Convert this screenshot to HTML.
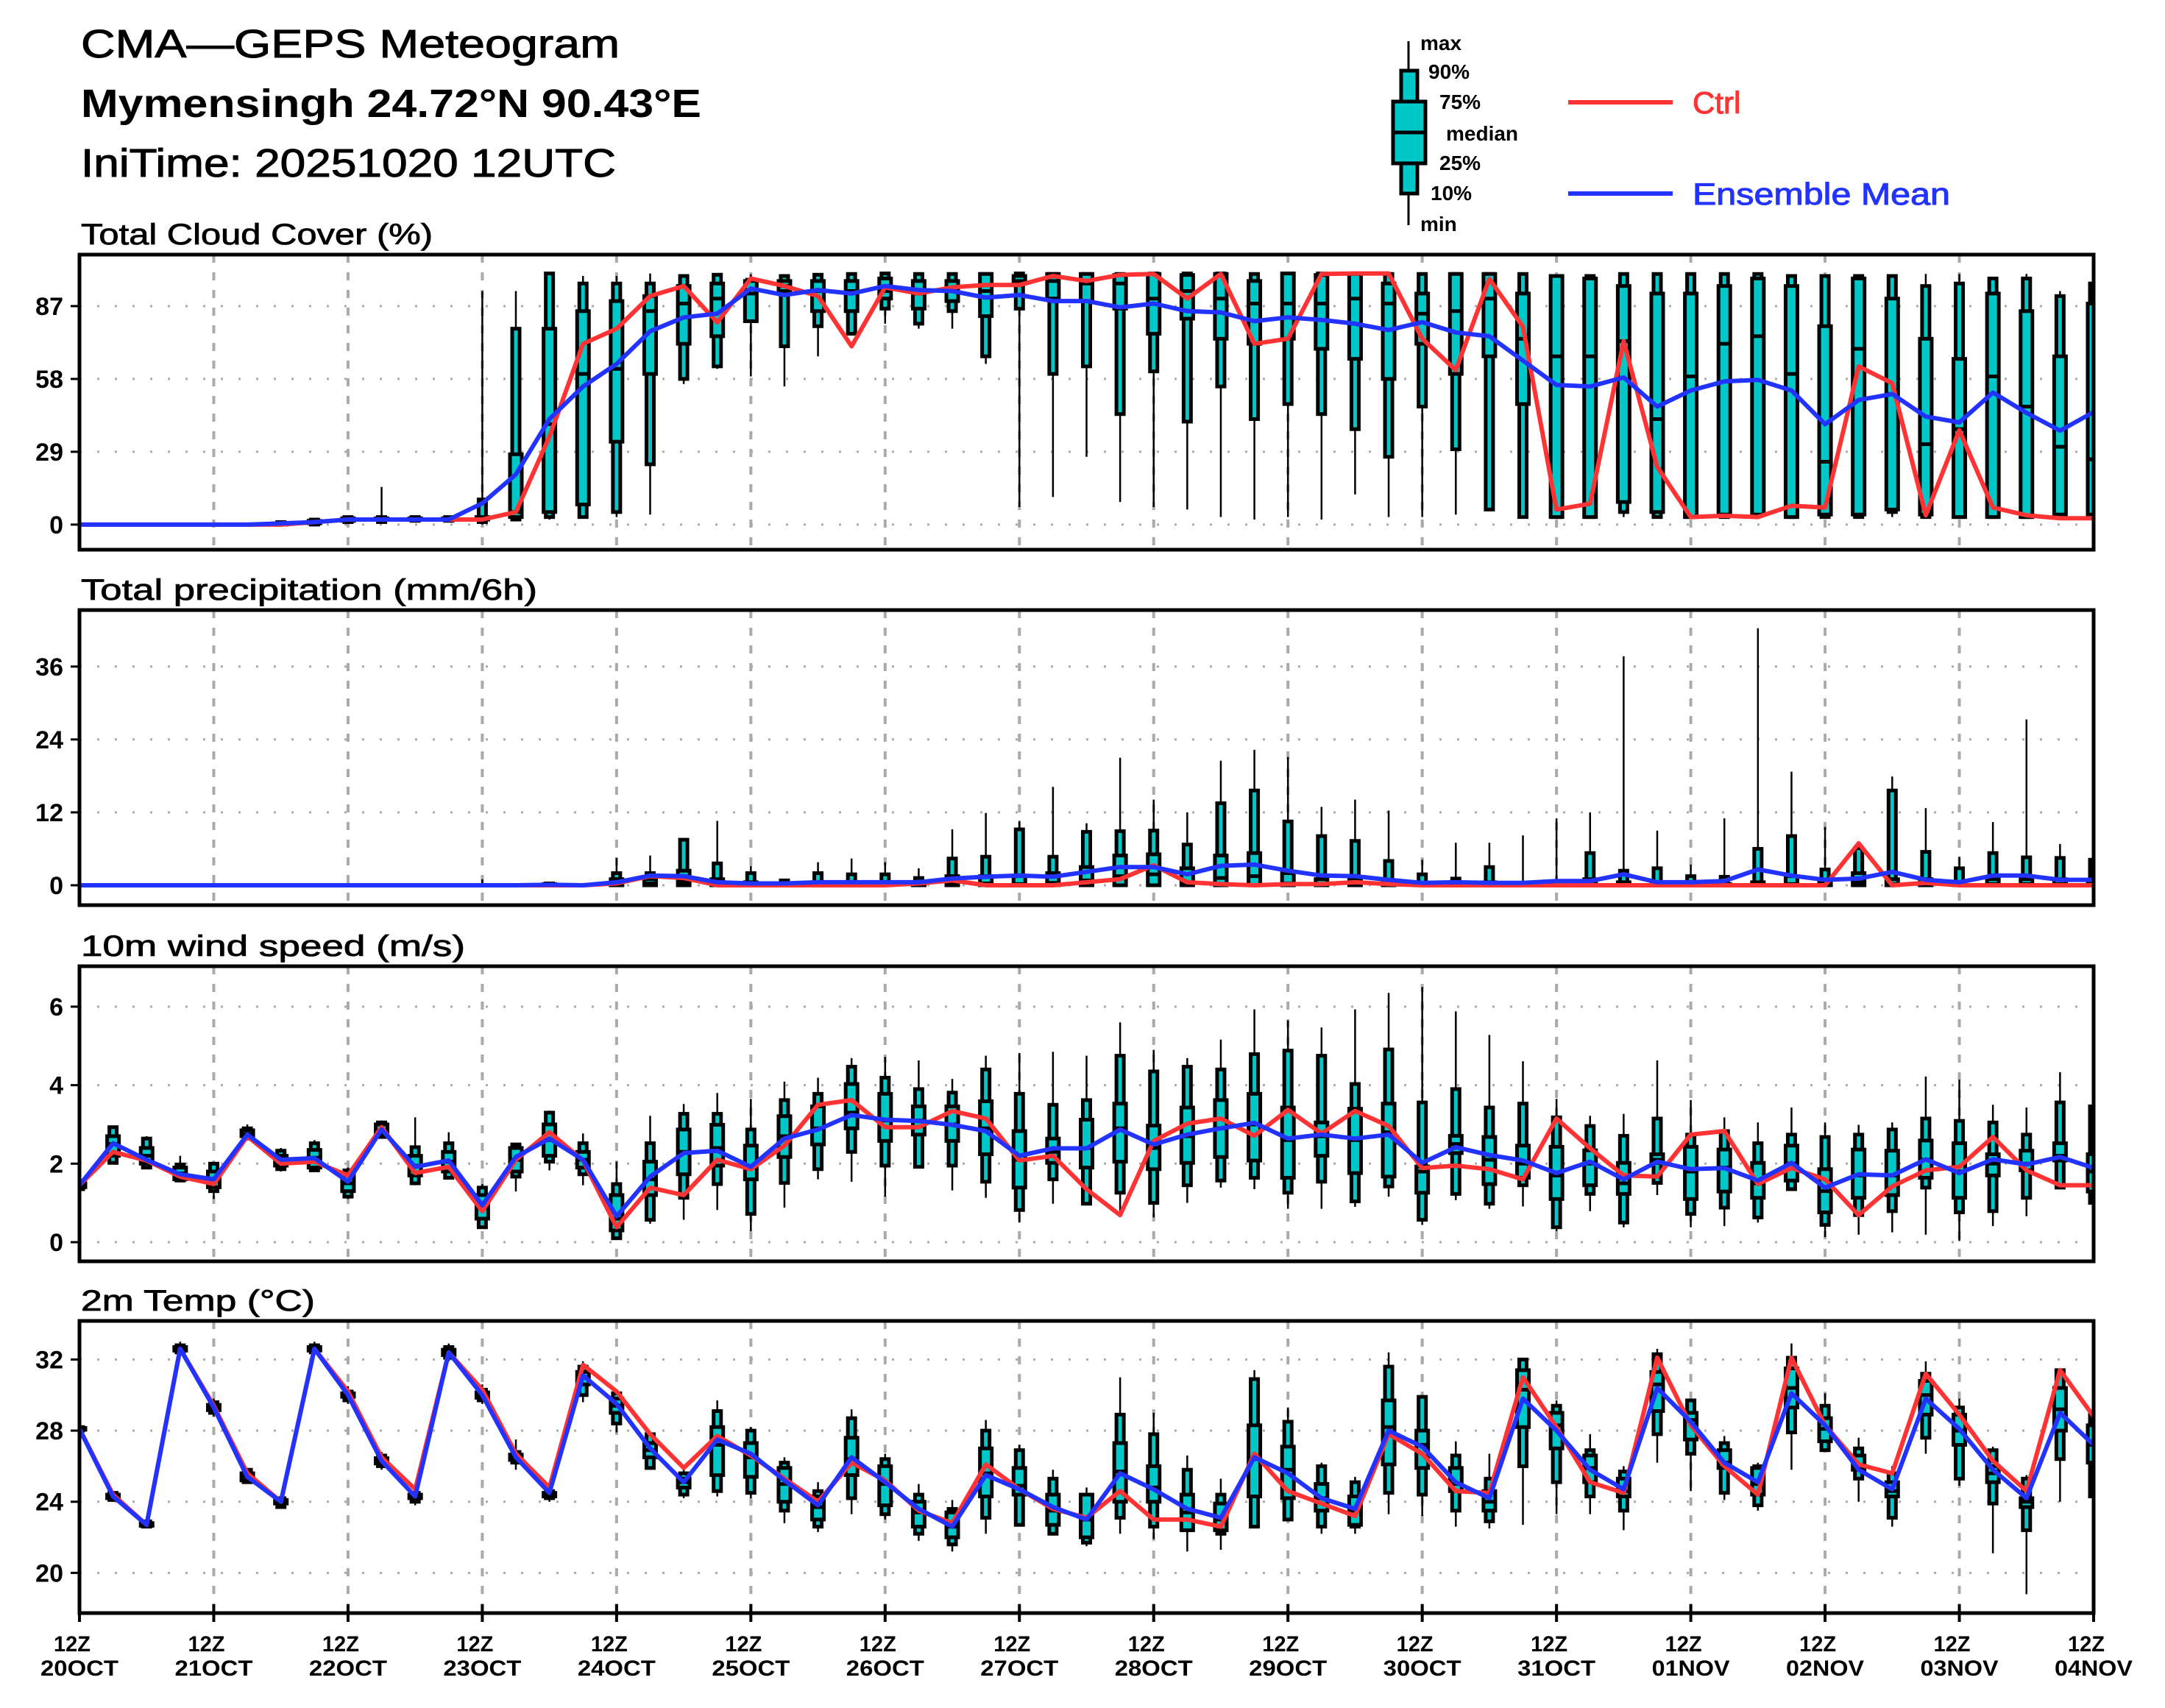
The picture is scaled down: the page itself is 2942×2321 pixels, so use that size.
<!DOCTYPE html>
<html><head><meta charset="utf-8"><title>CMA-GEPS Meteogram</title>
<style>html,body{margin:0;padding:0;background:#fff}svg{display:block}text{font-family:"Liberation Sans",sans-serif}</style>
</head><body>
<svg id="chart" xmlns="http://www.w3.org/2000/svg" width="2942" height="2321" viewBox="0 0 2942 2321">
<rect x="0" y="0" width="2942" height="2321" fill="#fff"/>
<text x="110" y="78" font-size="54" textLength="732" lengthAdjust="spacingAndGlyphs" stroke="#000" stroke-width="1">CMA—GEPS Meteogram</text>
<text x="110" y="159" font-size="54" font-weight="bold" textLength="843" lengthAdjust="spacingAndGlyphs">Mymensingh 24.72°N 90.43°E</text>
<text x="110" y="240" font-size="54" textLength="727" lengthAdjust="spacingAndGlyphs" stroke="#000" stroke-width="1">IniTime: 20251020 12UTC</text>
<g id="legend">
<line x1="1914" y1="56" x2="1914" y2="306" stroke="#000" stroke-width="3"/>
<rect x="1904" y="96" width="22" height="167" fill="#00c8c8" stroke="#000" stroke-width="5"/>
<rect x="1893" y="138" width="44" height="84" fill="#00c8c8" stroke="#000" stroke-width="5"/>
<line x1="1893" y1="180" x2="1937" y2="180" stroke="#000" stroke-width="5"/>
<g font-size="28" font-weight="bold">
<text x="1930" y="68">max</text>
<text x="1941" y="107">90%</text>
<text x="1956" y="148">75%</text>
<text x="1965" y="191">median</text>
<text x="1956" y="231">25%</text>
<text x="1944" y="272">10%</text>
<text x="1930" y="314">min</text>
</g>
<line x1="2131" y1="139" x2="2273" y2="139" stroke="#ff3333" stroke-width="6"/>
<text x="2300" y="154" font-size="42" fill="#ff3333" stroke="#ff3333" stroke-width="1">Ctrl</text>
<line x1="2131" y1="263" x2="2273" y2="263" stroke="#2233ff" stroke-width="6"/>
<text x="2300" y="278" font-size="42" fill="#2233ff" stroke="#2233ff" stroke-width="1" textLength="350" lengthAdjust="spacingAndGlyphs">Ensemble Mean</text>
</g>
<g id="panels"></g>
</svg>
<script>
// ---------- x axis ----------
const nSteps = 61;
const dayLabels = ["20OCT","21OCT","22OCT","23OCT","24OCT","25OCT","26OCT","27OCT","28OCT","29OCT","30OCT","31OCT","01NOV","02NOV","03NOV","04NOV"];

// ---------- cloud cover (%) ----------
const cloudMin = [0,0,0,0,0,0,0,0,1,1,1,1,0,2,2,3,3,4,56,62,59,55,67,76,80,78,78,64,7,11,27,9,7,6,3,2,3,2,12,3,3,4,6,3,3,3,3,3,3,3,3,3,3,3,3,3,3,3,3,3,3];
const cloudP10 = [0,0,0,0,0,0,0,0,1,1,1.5,1.5,1,2,3,3,5,24,58,63,81,71,79,76,86,80,85,67,86,60,63,44,61,41,55,42,48,44,38,27,47,30,6,3,3,3,5,3,3,3,4,3,3,3,5,3,3,3,3,3,3];
const cloudP25 = [0,0,0,0,0,0,0,0.5,1.5,2,2,2,2,3,5,8,33,60,72,75,81,93,85,85,90,86,89,83,96,90,89,86,76,82,74,72,74,70,66,58,72,60,67,48,3,3,9,5,3,4,4,3,4,4,6,4,3,3,3,4,4];
const cloudMed = [0,0,0,0,0,0,0,1,2,2,2,2,2,5,40,60,62,85,88,90,92,95,93,93,93,92,93,93,97,97,96,96,90,93,90,88,88,88,90,88,84,85,90,74,67,67,73,42,59,72,75,60,25,70,52,32,38,59,47,31,26];
const cloudP75 = [0,0,0,0,0,0,0.5,1.5,2.5,2.5,2.5,2.5,3,28,78,85,89,91,95,96,97,97,97,97,98,97,97,99.8,99,99.8,99.8,99.4,99.8,99.4,99.8,97,100,99.4,99.8,96,92,99.8,99.8,92,99,98,95,92,92,95,98,95,79,98,90,74,66,92,85,67,88];
const cloudP90 = [0,0,0,0,0,0,1,2,3,3,3,3,10,78,100,96,96,96,99,99.5,97.5,99,99.5,99.8,100,99.8,99.8,99.8,100,99.8,99.8,99.8,100,100,100,99.8,100,100,99.8,99.8,99.8,99.8,99.8,99.8,99,99,99.8,99.8,99.8,99.8,99.8,99,99,99,99,95,96,98,98,91,96];
const cloudMax = [0,0,0,0,0,0,1,2,3,15,3,3,93,93,100,99,99,100,99,99.5,99.7,99,99.5,99.8,100,99.8,99.8,99.8,100,100,100,100,100,100,100,99.8,100,100,99.8,99.8,99.8,99.8,99.8,99.8,99,99,99.8,99.8,99.8,99.8,99.8,99,99,99,99,99.8,99.8,98.3,99.8,93,98];
const cloudCtrl = [0,0,0,0,0,0,0,1,2,2,2,2,2,5,35,72,78,91,95,80.5,98,95,91,71,94.5,92,94.5,95.4,95.4,99,97,99.4,99.8,90,99.8,72,74,99.8,100,100,74,61.5,97.8,78.8,6,8.3,73,23,3,3.5,3,7.5,6.8,63,56.3,3.7,37.6,6.8,3.7,2.5,2.5];
const cloudMean = [0,0,0,0,0,0,0.5,1,2,2,2,2,8.5,20,42,55,64,77,82.5,84,94,91.4,93.4,92,95,93.4,93,90.4,91.4,89,89,86.5,88,85,84.5,81,82.5,81.5,80,77.5,80.6,76.5,75,65.3,55.6,55,58.6,47,53.4,57,57.6,53.4,40,49.6,52,43,40.7,52.6,44.5,37.4,44.8];
const cloudTicks = [0,29,58,87];

// ---------- precipitation (mm/6h) ----------
const precMin = [0,0,0,0,0,0,0,0,0,0,0,0,0,0,0,0,0,0,0,0,0,0,0,0,0,0,0,0,0,0,0,0,0,0,0,0,0,0,0,0,0,0,0,0,0,0,0,0,0,0,0,0,0,0,0,0,0,0,0,0,0];
const precP10 = [0,0,0,0,0,0,0,0,0,0,0,0,0,0,0,0,0,0,0,0,0,0,0,0,0,0,0,0,0,0,0,0,0,0,0,0,0,0,0,0,0,0,0,0,0,0,0,0,0,0,0,0,0,0,0,0,0,0,0,0,0];
const precP25 = [0,0,0,0,0,0,0,0,0,0,0,0,0,0,0,0,0,0,0,0,0,0,0,0,0,0,0,0,0,0,0,0,0,0,0,0,0,0,0,0,0,0,0,0,0,0,0,0,0,0,0,0,0,0,0,0,0,0,0,0,0];
const precMed = [0,0,0,0,0,0,0,0,0,0,0,0,0,0,0,0,0.3,0.3,0.6,0.2,0,0,0.1,0.1,0.1,0,0.3,0.3,0.2,0.4,0.8,1.5,1.8,0.5,1.2,1.5,0.3,0.2,0.2,0.1,0,0,0.1,0,0,0.1,0.1,0,0,0,0.1,0.2,0,0.5,0.2,0.2,0,0.2,0.2,0.2,0.1];
const precP75 = [0,0,0,0,0,0,0,0,0,0,0,0,0,0,0.2,0,1,1,2.4,1,0.5,0.2,0.5,0.5,0.5,0.3,1.5,1.5,1.5,2,3,4.9,5.1,2.8,4.9,5.3,2,1,1,0.8,0.3,0.2,0.5,0,0,1,0.5,0.5,0.3,0.2,0.5,1.5,0.5,2,1,1,0.3,1,1,1,0.5];
const precP90 = [0,0,0,0,0,0,0,0,0,0,0,0,0,0,0.3,0,2,2,7.5,3.6,2,0.8,2,1.8,1.8,1.2,4.4,4.7,9.2,4.7,8.8,8.9,9,6.7,13.5,15.6,10.5,8.1,7.3,4,1.8,1.1,3,0.4,0.4,5.3,2.4,2.8,1.5,1.4,6,8.1,2.6,6.1,15.6,5.5,2.8,5.3,4.6,4.5,4.2];
const precMax = [0,0,0,0,0,0,0,0,0,0,0,0,1,0,0.5,0,4.5,4.9,7.7,10.6,3.2,1,3.8,4.4,3.8,2.8,9.2,11.9,10.6,16.2,10.2,21,14.1,12,20.5,22.3,21.1,12.9,14.1,12.3,4.2,7,7,8.2,11,12,37.7,9,3.4,11,42.3,18.7,9.6,6.1,17.9,12.7,4.7,10.4,27.3,6.8,4.2];
const precCtrl = [0,0,0,0,0,0,0,0,0,0,0,0,0,0,0,0,0.3,1.5,1.2,0,0,0,0,0,0,0.3,0.8,0,0,0,0.5,1,3.3,0.5,0.2,0,0.2,0.2,0.5,0.2,0,0,0,0,0,0,0,0,0,0,0,0,0,6.9,0,0.4,0,0,0,0,0];
const precMean = [0,0,0,0,0,0,0,0,0,0,0,0,0,0,0.1,0,0.5,1.6,1.5,0.5,0.3,0.3,0.5,0.5,0.5,0.5,1.1,1.4,1.6,1.4,2.2,3,3,1.8,3.2,3.4,2.4,1.6,1.5,0.9,0.4,0.5,0.4,0.4,0.7,0.7,1.8,0.5,0.5,0.7,2.6,1.6,0.9,1.1,2.2,0.9,0.5,1.6,1.6,0.9,0.9];
const precTicks = [0,12,24,36];

// ---------- 10m wind speed (m/s) ----------
const windMin = [1.35,2.0,1.9,1.55,1.1,2.6,1.8,1.8,1.1,2.65,1.45,1.6,0.35,1.29,1.83,1.45,0.06,0.47,0.57,0.82,0.28,0.88,1.6,1.54,1.16,1.9,1.32,1.13,0.5,0.98,0.94,0.7,0.63,1.0,1.39,1.35,0.85,0.85,0.9,1.16,0.44,1.07,0.85,0.91,0.28,0.79,0.38,1.2,0.38,0.41,0.5,1.32,0.13,0.19,0.25,0.19,0.03,0.41,0.66,1.35,0.9];
const windP10 = [1.35,2.02,1.9,1.57,1.3,2.64,1.86,1.83,1.16,2.68,1.5,1.64,0.38,1.67,2.05,1.73,0.1,0.57,1.13,1.48,0.72,1.51,1.86,2.3,1.95,1.92,1.95,1.54,0.82,1.6,0.98,1.26,1.0,1.45,1.57,1.64,1.26,1.54,1.04,1.42,0.57,1.23,0.98,1.45,0.38,1.23,0.5,1.51,0.72,0.88,0.63,1.35,0.44,0.69,0.79,1.39,0.76,0.79,1.13,1.39,1.0];
const windP25 = [1.4,2.2,2.0,1.6,1.4,2.7,1.95,1.9,1.3,2.75,1.7,1.8,0.6,1.8,2.2,1.9,0.3,1.2,1.73,1.95,1.6,2.17,2.49,2.9,2.58,2.74,2.58,2.24,1.39,2.02,1.9,2.05,1.86,2.02,2.17,2.08,1.64,2.2,1.76,1.67,1.26,2.27,1.48,1.64,1.1,1.45,1.23,2.02,1.1,1.29,1.13,1.57,0.76,1.13,1.2,1.64,1.13,1.7,1.83,2.08,1.29];
const windMed = [1.45,2.5,2.2,1.75,1.6,2.75,2.05,2.15,1.5,2.85,1.95,2.05,0.9,2.1,2.6,2.1,0.6,1.6,2.3,2.4,1.9,2.7,2.9,3.3,3.1,3.1,3.0,2.9,2.1,2.3,2.4,2.9,2.4,2.7,2.9,3.0,2.6,2.7,2.6,2.8,1.8,2.5,2.1,2.0,1.7,2.0,1.5,2.1,1.8,1.9,1.5,2.0,1.3,1.7,1.7,2.1,1.8,2.0,2.0,2.2,1.8];
const windP75 = [1.5,2.7,2.4,1.9,1.8,2.85,2.2,2.35,1.7,3.0,2.2,2.3,1.2,2.4,3.0,2.3,1.2,2.05,2.87,2.99,2.46,3.21,3.46,4.03,3.78,3.46,3.46,3.59,2.83,2.64,3.12,3.53,2.97,3.43,3.62,3.78,3.43,3.05,3.4,3.53,1.93,2.71,2.68,2.46,2.43,2.34,2.02,2.24,2.43,2.36,2.02,2.46,1.86,2.36,2.33,2.59,2.52,2.24,2.33,2.52,2.24];
const windP90 = [1.55,2.93,2.64,1.98,2.0,2.9,2.33,2.52,1.83,3.05,2.42,2.52,1.39,2.49,3.3,2.52,1.48,2.52,3.27,3.27,2.87,3.62,3.78,4.47,4.19,3.9,3.81,4.4,3.78,3.5,3.62,4.75,4.35,4.47,4.4,4.79,4.88,4.75,4.03,4.91,3.56,3.9,3.43,3.53,3.18,2.96,2.71,3.15,2.74,2.83,2.52,2.74,2.68,2.74,2.87,3.15,3.09,3.05,2.74,3.56,3.46];
const windMax = [1.55,2.95,2.7,2.2,2.0,3.0,2.4,2.6,1.9,3.1,3.18,2.8,1.48,2.5,3.35,2.77,2.05,3.22,3.52,3.8,3.65,4.09,4.19,4.69,4.72,4.63,4.16,4.75,4.82,4.85,4.75,5.6,4.9,4.69,5.16,5.93,5.65,5.47,5.93,6.35,6.5,5.88,5.28,4.61,3.65,3.22,3.27,4.63,3.62,3.18,3.05,3.43,3.05,2.99,3.05,4.22,4.14,3.5,3.43,4.33,3.5];
const windCtrl = [1.45,2.3,2.08,1.67,1.48,2.7,2.0,2.05,1.7,2.93,1.76,1.92,0.79,2.1,2.8,2.08,0.38,1.39,1.2,2.1,1.86,2.46,3.5,3.62,2.93,2.93,3.34,3.15,2.08,2.2,1.35,0.69,2.58,3.02,3.15,2.71,3.37,2.77,3.34,2.96,1.89,1.95,1.86,1.6,3.15,2.39,1.7,1.67,2.74,2.83,1.48,1.89,1.6,0.69,1.42,1.83,1.92,2.68,1.83,1.45,1.45];
const windMean = [1.45,2.52,2.1,1.73,1.6,2.74,2.1,2.14,1.54,2.87,1.92,2.08,0.94,2.17,2.64,2.1,0.66,1.67,2.27,2.33,1.92,2.64,2.87,3.24,3.12,3.09,2.99,2.83,2.2,2.39,2.39,2.87,2.49,2.74,2.9,3.04,2.64,2.74,2.64,2.74,2.02,2.42,2.22,2.08,1.76,2.05,1.6,2.05,1.86,1.89,1.57,2.02,1.39,1.73,1.7,2.11,1.76,2.11,1.98,2.17,1.89];
const windTicks = [0,2,4,6];

// ---------- 2m temperature (°C) ----------
const tempMin = [28.0,24.0,22.5,32.3,28.8,25.0,23.6,32.3,29.5,25.8,23.8,31.9,29.5,25.8,24.0,29.6,27.9,25.8,24.2,24.3,24.2,22.8,22.3,23.3,23.0,21.8,21.2,22.2,22.6,22.1,21.5,22.2,21.9,21.2,21.3,22.6,23.0,22.2,22.2,23.3,23.2,22.6,22.5,22.7,23.3,23.3,22.4,26.2,24.6,24.1,23.5,25.8,26.9,24.0,22.6,26.7,24.9,21.1,18.8,24.0,24.3];
const tempP10 = [28.0,24.1,22.6,32.4,29.0,25.1,23.7,32.4,29.7,26.0,24.0,32.1,29.7,26.2,24.2,30.0,28.4,25.9,24.4,24.6,24.5,23.5,22.6,24.2,23.3,22.2,21.6,23.1,22.7,22.2,21.7,23.1,22.6,22.4,22.2,22.6,23.0,22.6,22.6,24.5,24.4,23.5,22.9,26.0,25.1,24.3,23.5,27.8,26.7,24.5,23.8,27.9,26.9,25.3,23.1,27.6,25.3,23.9,22.4,26.4,24.3];
const tempP25 = [28.05,24.2,22.65,32.5,29.15,25.2,23.9,32.5,29.9,26.15,24.2,32.25,29.85,26.35,24.3,30.6,29.0,26.5,24.8,25.5,25.4,24.0,23.0,25.5,23.8,22.6,22.0,24.3,24.4,22.7,22.0,24.0,24.0,22.4,22.4,24.3,24.2,23.5,22.7,26.1,25.9,24.6,23.5,28.2,27.0,25.1,24.3,29.1,27.5,25.9,24.4,29.3,27.4,25.8,24.3,28.9,27.2,25.1,23.7,28.0,26.2];
const tempMed = [28.1,24.3,22.7,32.6,29.3,25.4,24.0,32.6,30.0,26.3,24.3,32.4,30.0,26.5,24.4,31.0,29.4,26.9,25.1,27.2,26.5,25.0,23.7,26.4,25.0,23.4,22.6,25.6,24.9,23.5,23.0,25.7,24.8,23.4,23.0,26.4,25.8,24.2,23.5,28.2,27.2,25.0,24.0,30.3,28.3,25.9,24.6,30.6,28.6,26.2,25.0,30.4,28.1,26.0,24.6,30.0,28.0,25.6,24.0,29.2,27.2];
const tempP75 = [28.15,24.4,22.8,32.7,29.45,25.6,24.1,32.7,30.1,26.45,24.4,32.55,30.15,26.65,24.5,31.3,29.8,27.3,25.3,28.2,27.3,25.9,24.3,27.6,26.0,24.0,23.4,27.0,25.9,24.4,24.4,27.3,26.0,24.4,23.9,28.3,27.1,25.0,24.3,29.7,28.0,25.9,24.6,31.4,29.0,26.6,25.3,31.3,29.0,26.9,25.9,31.5,28.7,26.6,25.1,30.8,28.9,26.0,24.2,30.4,28.3];
const tempP90 = [28.2,24.5,22.9,32.8,29.6,25.8,24.2,32.8,30.2,26.6,24.5,32.7,30.3,26.8,24.6,31.6,30.1,27.8,25.6,29.1,28.0,26.2,24.6,28.7,26.4,24.4,23.6,28.0,26.9,25.3,24.4,28.9,27.8,25.8,24.4,30.9,28.5,26.0,25.1,31.6,29.9,26.6,25.3,32.0,29.4,26.9,25.7,32.3,29.7,27.3,26.0,32.1,29.4,27.0,25.6,31.2,29.3,26.9,25.3,31.4,28.9];
const tempMax = [28.2,24.6,23.0,33.0,29.8,25.9,24.3,33.0,30.5,26.8,24.7,32.9,30.6,27.5,24.8,31.9,29.9,27.9,25.8,29.7,28.2,26.5,25.1,29.2,26.7,25.0,24.1,28.6,27.2,25.8,24.8,31.0,29.0,26.6,25.3,31.4,29.3,26.2,25.4,32.4,30.0,27.4,26.7,32.1,29.7,27.8,26.0,32.6,29.8,27.7,26.2,32.9,30.1,27.6,26.0,31.9,29.8,27.1,25.5,31.4,29.0];
const tempCtrl = [28.1,24.4,22.7,32.6,29.4,25.6,24.0,32.6,30.2,26.5,24.7,32.4,30.3,26.7,24.8,31.7,30.2,27.8,25.9,27.7,26.6,25.3,24.0,26.2,25.2,23.5,22.8,26.1,24.7,23.6,23.1,24.6,23.0,23.0,22.6,26.7,24.6,23.9,23.2,27.8,26.7,24.6,24.5,31.0,28.2,25.1,24.5,32.1,28.3,26.0,24.4,32.1,28.3,26.1,25.6,31.2,28.9,26.3,24.6,31.4,28.8];
const tempMean = [28.1,24.3,22.7,32.6,29.3,25.4,24.0,32.6,30.0,26.3,24.3,32.4,30.0,26.5,24.5,31.1,29.5,27.0,25.1,27.5,26.7,25.2,23.8,26.5,25.1,23.6,22.6,25.5,24.7,23.7,23.0,25.6,24.7,23.6,23.1,26.5,25.6,24.2,23.6,28.0,27.1,25.1,24.2,29.8,28.0,25.8,24.7,30.4,28.5,26.2,25.1,30.1,28.3,25.8,24.7,29.8,28.1,25.8,24.2,29.0,27.2];
const tempTicks = [20,24,28,32];

// ---------- layout ----------
const NS = "http://www.w3.org/2000/svg";
const X0 = 108, X1 = 2845;
function xPos(i){ return X0 + (X1 - X0) * i / (nSteps - 1); }
function mk(tag, attrs, parent){
  const el = document.createElementNS(NS, tag);
  for (const k in attrs) el.setAttribute(k, attrs[k]);
  parent.appendChild(el);
  return el;
}
const panelsG = document.getElementById('panels');

const panels = [
  {key:'cloud', title:'Total Cloud Cover (%)', tw:478, top:346, bot:747, vmin:-10, vmax:107.5,
   mn:cloudMin,p10:cloudP10,p25:cloudP25,med:cloudMed,p75:cloudP75,p90:cloudP90,mx:cloudMax,ctrl:cloudCtrl,mean:cloudMean,ticks:cloudTicks, skipZero:true},
  {key:'precip', title:'Total precipitation (mm/6h)', tw:620, top:829, bot:1230, vmin:-3.27, vmax:45.3,
   mn:precMin,p10:precP10,p25:precP25,med:precMed,p75:precP75,p90:precP90,mx:precMax,ctrl:precCtrl,mean:precMean,ticks:precTicks, skipZero:true},
  {key:'wind', title:'10m wind speed (m/s)', tw:522, top:1313, bot:1714, vmin:-0.4875, vmax:7.03,
   mn:windMin,p10:windP10,p25:windP25,med:windMed,p75:windP75,p90:windP90,mx:windMax,ctrl:windCtrl,mean:windMean,ticks:windTicks, skipZero:false},
  {key:'temp', title:'2m Temp (°C)', tw:318, top:1795, bot:2192, vmin:17.74, vmax:34.17,
   mn:tempMin,p10:tempP10,p25:tempP25,med:tempMed,p75:tempP75,p90:tempP90,mx:tempMax,ctrl:tempCtrl,mean:tempMean,ticks:tempTicks, skipZero:false}
];

panels.forEach((p, pi) => {
  const g = mk('g', {}, panelsG);
  
  
  const yPos = v => p.bot - (v - p.vmin) / (p.vmax - p.vmin) * (p.bot - p.top);

  const t = mk('text', {x:110, y:p.top - 14, 'font-size':40, stroke:'#000', 'stroke-width':0.8, textLength:p.tw, lengthAdjust:'spacingAndGlyphs'}, g);
  t.textContent = p.title;
  
  

  const clipId = 'clip' + pi;
  const cp = mk('clipPath', {id:clipId}, g);
  mk('rect', {x:X0, y:p.top, width:X1 - X0, height:p.bot - p.top}, cp);

  const grid = mk('g', {}, g);
  
  
  p.ticks.forEach(tv => {
    const y = yPos(tv);
    const gl = mk('line', {x1:X0, x2:X1, y1:y, y2:y, stroke:'#aaaaaa', 'stroke-width':3, 'stroke-dasharray':'3 21'}, grid);
    
    
    const tk = mk('line', {x1:X0 - 12, x2:X0, y1:y, y2:y, stroke:'#000', 'stroke-width':3}, g);
    
    
    const lab = mk('text', {x:X0 - 22, y:y + 12, 'font-size':34, 'font-weight':'bold', 'text-anchor':'end'}, g);
    lab.textContent = String(tv);
    
    
  });
  for (let d = 1; d < dayLabels.length - 1; d++) {
    const x = xPos(d * 4);
    const vl = mk('line', {x1:x, x2:x, y1:p.top, y2:p.bot, stroke:'#aaaaaa', 'stroke-width':4, 'stroke-dasharray':'11 13'}, grid);
    
    
  }

  const boxes = mk('g', {'clip-path':'url(#' + clipId + ')'}, g);
  
  
  for (let i = 0; i < nSteps; i++) {
    if (p.skipZero && p.mx[i] <= 0) continue;
    const x = xPos(i);
    const bg = mk('g', {}, boxes);
    
    
    mk('line', {x1:x, x2:x, y1:yPos(p.mx[i]), y2:yPos(p.mn[i]), stroke:'#000', 'stroke-width':2.5}, bg);
    const y90 = yPos(p.p90[i]), y10 = yPos(p.p10[i]);
    mk('rect', {x:x - 5, y:y90, width:10, height:Math.max(0.5, y10 - y90), fill:'#00c8c8', stroke:'#000', 'stroke-width':5}, bg);
    const y75 = yPos(p.p75[i]), y25 = yPos(p.p25[i]);
    mk('rect', {x:x - 8, y:y75, width:16, height:Math.max(0.5, y25 - y75), fill:'#00c8c8', stroke:'#000', 'stroke-width':5}, bg);
    const ym = yPos(p.med[i]);
    mk('line', {x1:x - 8, x2:x + 8, y1:ym, y2:ym, stroke:'#000', 'stroke-width':5}, bg);
  }

  const linePts = arr => arr.map((v, i) => xPos(i).toFixed(1) + ',' + yPos(v).toFixed(1)).join(' ');
  const cl = mk('polyline', {points:linePts(p.ctrl), fill:'none', stroke:'#ff3333', 'stroke-width':6, 'stroke-linejoin':'round', 'clip-path':'url(#' + clipId + ')'}, g);
  
  
  const ml = mk('polyline', {points:linePts(p.mean), fill:'none', stroke:'#2233ff', 'stroke-width':6, 'stroke-linejoin':'round', 'clip-path':'url(#' + clipId + ')'}, g);
  
  

  const fr = mk('rect', {x:X0, y:p.top, width:X1 - X0, height:p.bot - p.top, fill:'none', stroke:'#000', 'stroke-width':5}, g);
  
  

  if (pi === panels.length - 1) {
    const xa = mk('g', {}, g);
    
    
    dayLabels.forEach((lab, d) => {
      const x = xPos(d * 4);
      const tk = mk('line', {x1:x, x2:x, y1:p.bot - 12, y2:p.bot + 12, stroke:'#000', 'stroke-width':4}, xa);
      
      
      const t1 = mk('text', {x:x - 10, y:2244, 'font-size':30, 'font-weight':'bold', 'text-anchor':'middle', textLength:50, lengthAdjust:'spacingAndGlyphs'}, xa);
      t1.textContent = '12Z';
      
      
      const t2 = mk('text', {x:x, y:2277, 'font-size':30, 'font-weight':'bold', 'text-anchor':'middle', textLength:106, lengthAdjust:'spacingAndGlyphs'}, xa);
      t2.textContent = lab;
      
      
    });
  }
});
</script>
</body></html>
